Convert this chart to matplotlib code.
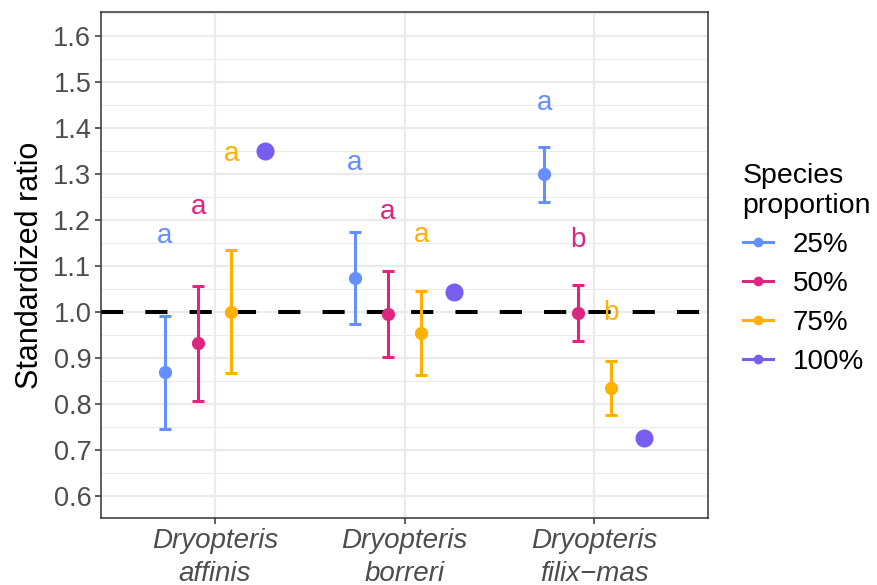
import numpy as np
import matplotlib.pyplot as plt
from matplotlib.lines import Line2D
from matplotlib.ticker import MultipleLocator

plt.rcParams['font.family'] = ['Liberation Sans', 'DejaVu Sans']

# Species and proportions
species = ['Dryopteris\naffinis', 'Dryopteris\nborreri', 'Dryopteris\nfilix\u2212mas']
proportions = ['25%', '50%', '75%', '100%']
colors = ['#648FFF', '#DC267F', '#FFB000', '#785EF0']

# Mean standardized ratio per species (rows) and proportion (columns)
means = np.array([
    [0.869, 0.932, 1.000, 1.350],
    [1.073, 0.995, 0.954, 1.044],
    [1.300, 0.997, 0.834, 0.725],
])
lower = np.array([
    [0.746, 0.806, 0.867, np.nan],
    [0.973, 0.901, 0.862, np.nan],
    [1.240, 0.937, 0.775, np.nan],
])
upper = np.array([
    [0.991, 1.057, 1.134, np.nan],
    [1.173, 1.088, 1.046, np.nan],
    [1.359, 1.059, 0.893, np.nan],
])

# Significance letters and where they sit
letters = [
    ['a', 'a', 'a'],
    ['a', 'a', 'a'],
    ['a', 'b', 'b'],
]
letter_y = np.array([
    [1.164, 1.228, 1.343],
    [1.324, 1.218, 1.167],
    [1.454, 1.157, 0.997],
])

fig = plt.figure(figsize=(8.77, 5.85), dpi=100)
ax = fig.add_axes([0.1152, 0.1145, 0.6921, 0.865])

x = np.arange(1, len(species) + 1)
dodge = 0.7
offsets = (np.arange(len(proportions)) - (len(proportions) - 1) / 2) * dodge / len(proportions)

# Reference line at ratio 1
ax.axhline(1.0, color='black', lw=2.9, dashes=(5.5, 5.5), zorder=2)

for j, (prop, col) in enumerate(zip(proportions, colors)):
    xs = x + offsets[j]
    if j < 3:
        yerr = np.vstack([means[:, j] - lower[:, j], upper[:, j] - means[:, j]])
        ax.errorbar(xs, means[:, j], yerr=yerr, fmt='o', color=col, ms=8.5,
                    elinewidth=2.2, capsize=4.5, capthick=2.2, zorder=3)
        for i in range(len(species)):
            ax.text(xs[i], letter_y[i, j], letters[i][j], color=col, fontsize=20,
                    ha='center', va='center', zorder=4)
    else:
        ax.plot(xs, means[:, j], 'o', color=col, ms=12, zorder=3)

ax.set_xlim(0.4, 3.6)
ax.set_ylim(0.552, 1.652)
ax.set_xticks(x)
ax.set_xticklabels(species, style='italic', fontsize=20, color='#4D4D4D', linespacing=1.35)
ax.yaxis.set_major_locator(MultipleLocator(0.1))
ax.yaxis.set_minor_locator(MultipleLocator(0.05))
ax.set_yticks(np.round(np.arange(0.6, 1.61, 0.1), 1))
ax.set_yticklabels([f'{v:.1f}' for v in np.arange(0.6, 1.61, 0.1)], fontsize=19.5, color='#4D4D4D')
ax.tick_params(axis='both', which='major', length=4, width=1.1, color='#333333', pad=3)
ax.tick_params(axis='y', which='minor', length=0)
ax.set_ylabel('Standardized ratio', fontsize=22, labelpad=6)

ax.grid(True, which='major', color='#EBEBEB', lw=1.6, zorder=0)
ax.grid(True, which='minor', axis='y', color='#EBEBEB', lw=0.8, zorder=0)
ax.set_axisbelow(True)
for s in ax.spines.values():
    s.set_color('#333333')
    s.set_linewidth(1.1)

handles = [Line2D([0], [0], color=c, marker='o', ms=6, lw=2.2) for c in colors]
leg = fig.legend(handles, proportions, title='Species\nproportion', loc='upper left',
                 bbox_to_anchor=(0.834, 0.741), frameon=False, fontsize=20,
                 title_fontsize=20.5, handlelength=1.1, handletextpad=0.7,
                 labelspacing=0.47, alignment='left', borderaxespad=0)

fig.savefig('out.png', dpi=100)
